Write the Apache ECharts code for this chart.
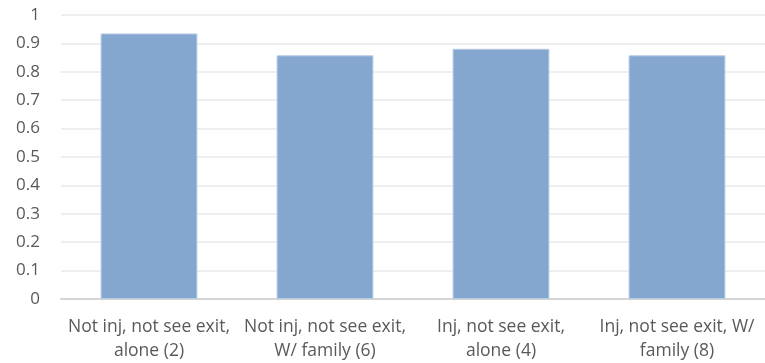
<!DOCTYPE html>
<html>
<head>
<meta charset="utf-8">
<script src="https://cdn.jsdelivr.net/npm/echarts@6/dist/echarts.min.js"></script>
<style>
  html, body { margin: 0; padding: 0; background: #ffffff; }
  #chart { width: 765px; height: 363px; }
</style>
</head>
<body>
<div id="chart"></div>
<script>
// Category labels (two-line, as shown under each bar)
const categories = [
  'Not inj, not see exit,\nalone (2)',
  'Not inj, not see exit,\nW/ family (6)',
  'Inj, not see exit,\nalone (4)',
  'Inj, not see exit, W/\nfamily (8)'
];

// Proportion for each scenario
const values = [0.935, 0.858, 0.881, 0.858];

// Value axis range and step
const yMin = 0;
const yMax = 1;
const yStep = 0.1;

const chart = echarts.init(document.getElementById('chart'), null, { renderer: 'canvas' });

chart.setOption({
  animation: false,
  backgroundColor: '#ffffff',
  grid: { left: 61, right: 0, top: 15, bottom: 64, containLabel: false },
  xAxis: {
    type: 'category',
    data: categories,
    axisTick: { show: false },
    axisLine: { show: true, lineStyle: { color: '#d4d4d4', width: 2 } },
    axisLabel: {
      interval: 0,
      margin: 16,
      color: '#595959',
      fontFamily: 'Open Sans',
      fontSize: 17.5,
      lineHeight: 24
    },
    splitLine: { show: false }
  },
  yAxis: {
    type: 'value',
    min: yMin,
    max: yMax,
    interval: yStep,
    axisLine: { show: false },
    axisTick: { show: false },
    axisLabel: {
      margin: 21,
      color: '#595959',
      fontFamily: 'Open Sans',
      fontSize: 17,
      formatter: function (v) { return String(Math.round(v * 10) / 10); }
    },
    splitLine: { show: true, lineStyle: { color: '#eeeeee', width: 2 } }
  },
  series: [{
    type: 'bar',
    data: values,
    barCategoryGap: '45%',
    itemStyle: { color: '#84a6cf', borderColor: '#b6cbe4', borderWidth: 1 }
  }]
});
</script>
</body>
</html>
